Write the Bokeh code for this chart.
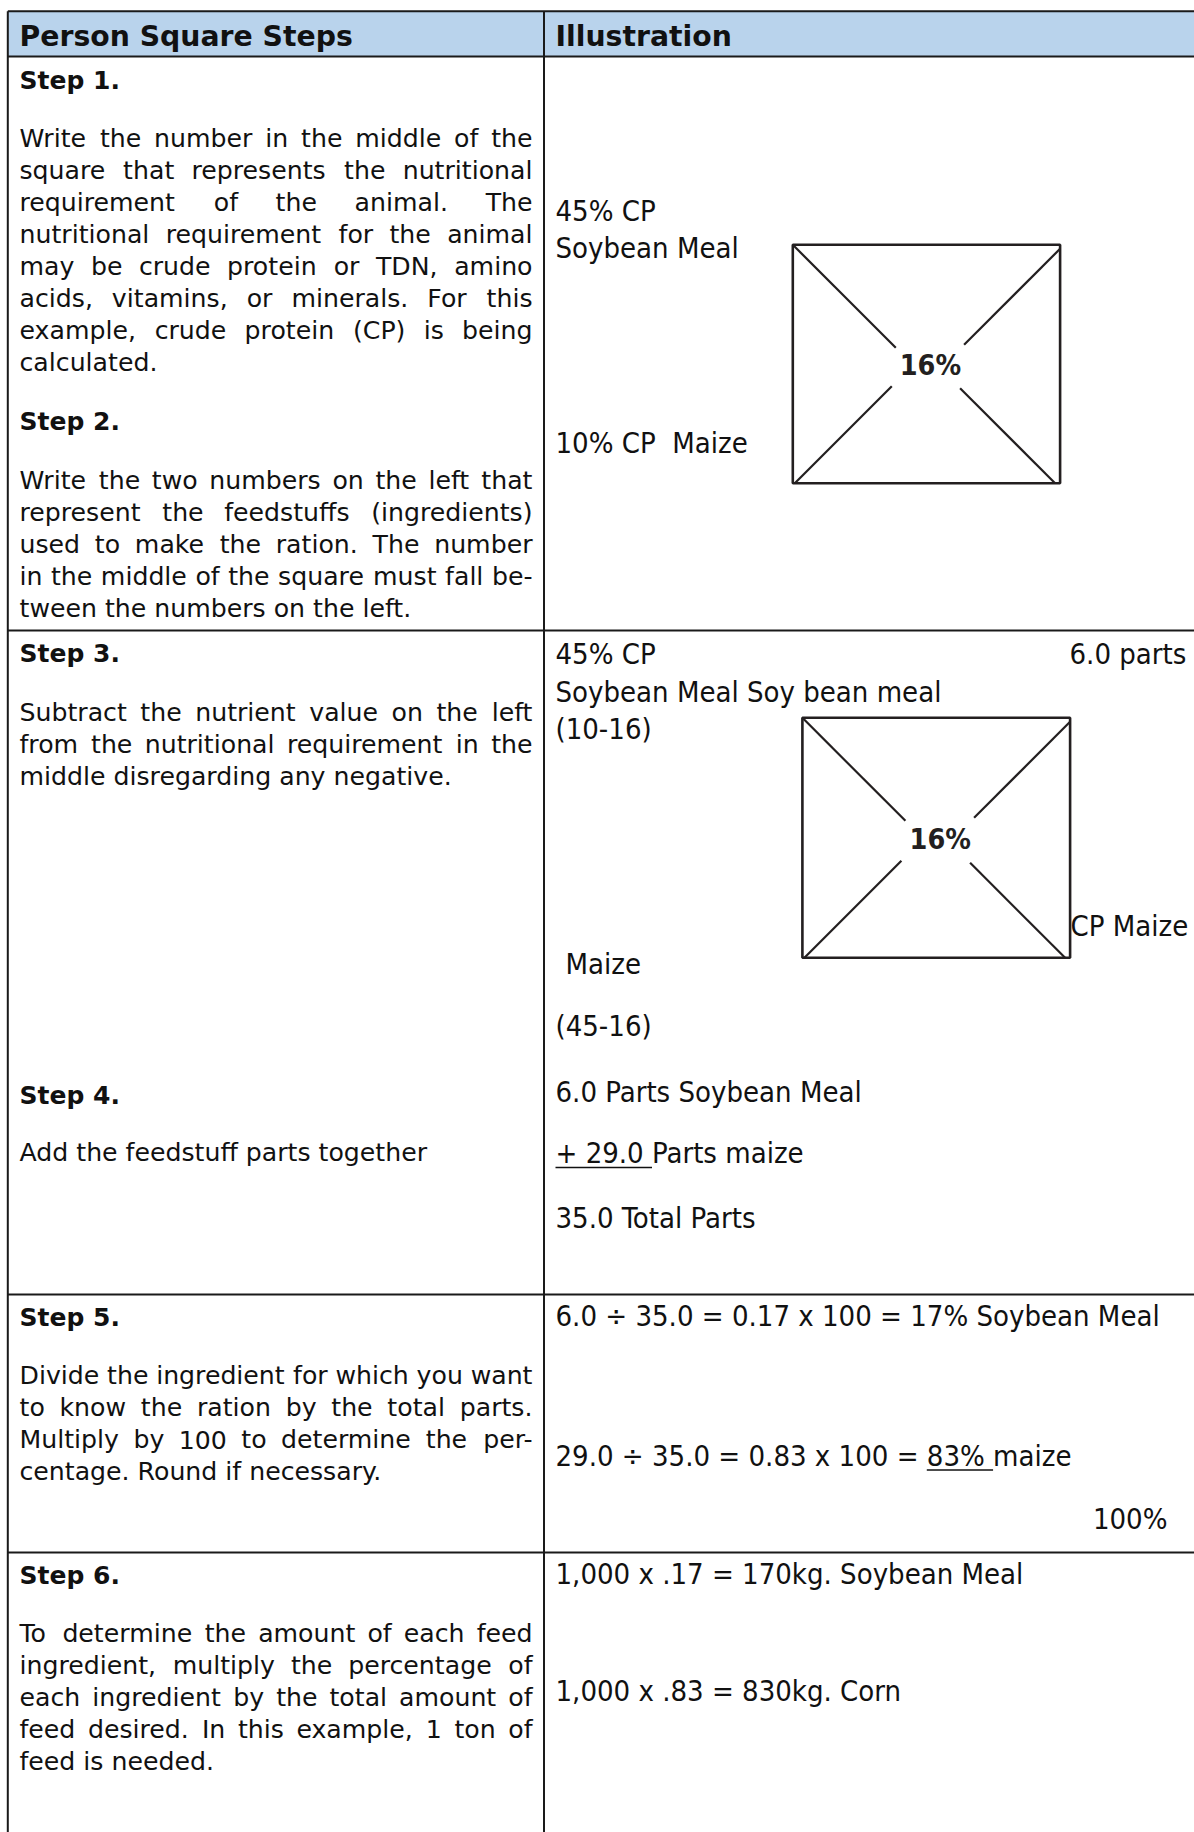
import glob, os, struct, subprocess
from bokeh.plotting import figure
from bokeh.models import Range1d, ColumnDataSource
from bokeh.core.properties import value
from bokeh.embed import file_html
from bokeh.resources import INLINE

# ---------------- texts (data) ----------------
header_labels = ["Person Square Steps", "Illustration"]
step_titles = ["Step 1.", "Step 2.", "Step 3.", "Step 4.", "Step 5.", "Step 6."]
step_paragraphs = [
    ["Write the number in the middle of the",
     "square that represents the nutritional",
     "requirement of the animal. The",
     "nutritional requirement for the animal",
     "may be crude protein or TDN, amino",
     "acids, vitamins, or minerals. For this",
     "example, crude protein (CP) is being",
     "calculated."],
    ["Write the two numbers on the left that",
     "represent the feedstuffs (ingredients)",
     "used to make the ration. The number",
     "in the middle of the square must fall be-",
     "tween the numbers on the left."],
    ["Subtract the nutrient value on the left",
     "from the nutritional requirement in the",
     "middle disregarding any negative."],
    ["Add the feedstuff parts together"],
    ["Divide the ingredient for which you want",
     "to know the ration by the total parts.",
     "Multiply by 100 to determine the per-",
     "centage. Round if necessary."],
    ["To determine the amount of each feed",
     "ingredient, multiply the percentage of",
     "each ingredient by the total amount of",
     "feed desired. In this example, 1 ton of",
     "feed is needed."],
]
requirement_label = "16%"
illus_step1 = ["45% CP", "Soybean Meal", "10% CP\u00a0 Maize"]
illus_step3 = ["45% CP", "6.0 parts", "Soybean Meal Soy bean meal", "(10-16)",
               "CP Maize", "Maize", "(45-16)"]
illus_step4 = ["6.0 Parts Soybean Meal", "+ 29.0 Parts maize", "35.0 Total Parts"]
underline_step4 = "+ 29.0 "
illus_step5 = ["6.0 \u00f7 35.0 = 0.17 x 100 = 17% Soybean Meal",
               "29.0 \u00f7 35.0 = 0.83 x 100 = 83% maize", "100%"]
underline_step5_prefix = "29.0 \u00f7 35.0 = 0.83 x 100 = "
underline_step5 = "83% "
illus_step6 = ["1,000 x .17 = 170kg. Soybean Meal", "1,000 x .83 = 830kg. Corn"]

# ---------------- layout (page pixels) ----------------
W, H = 1194, 1832
T_LEFT, T_TOP, HDR_BOT = 7.3, 10.7, 56.0
COL_DIV = 543.5
ROW_LINES = [630.0, 1294.0, 1552.0]
LX, LR = 19.0, 532.0
RX = 555.0
LGAP = 31.9
title_y = [90, 431, 663, 1105, 1327, 1585]
para_y = [148, 490, 722, 1162, 1385, 1643]
BASE_K = 0.385   # baseline correction (fraction of font size)

BODY_FONT, BODY_SIZE = "DejaVu Sans", 25.2
ILL_FONT, ILL_SIZE = "DejaVu Sans Condensed", 29.0
HDR_SIZE, TITLE_SIZE, REQ_SIZE = 28.3, 25.0, 28.5
INK = "#111111"
BORDER = "#1a1a1a"
SQ_INK = "#231f20"
HEADER_FILL = "#b9d3ec"


# ---------------- font metrics (for justified lines / underlines) ----------------
def find_font(fname, family):
    for base in ["/usr/share/fonts", "/usr/local/share/fonts",
                 os.path.expanduser("~/.fonts"), os.path.expanduser("~/.local/share/fonts")]:
        r = glob.glob(os.path.join(base, "**", fname), recursive=True)
        if r:
            return r[0]
    try:
        out = subprocess.run(["fc-match", "-f", "%{file}", family], capture_output=True,
                             text=True, timeout=5).stdout.strip()
        if out and os.path.basename(out).lower() == fname.lower():
            return out
    except Exception:
        pass
    return None


def load_width_fn(path):
    data = open(path, "rb").read()
    n = struct.unpack(">H", data[4:6])[0]
    tabs = {}
    for i in range(n):
        tag, _, off, ln = struct.unpack(">4sIII", data[12 + 16 * i:28 + 16 * i])
        tabs[tag.decode("latin-1")] = off
    upem = struct.unpack(">H", data[tabs["head"] + 18:tabs["head"] + 20])[0]
    nhm = struct.unpack(">H", data[tabs["hhea"] + 34:tabs["hhea"] + 36])[0]
    hm = tabs["hmtx"]
    adv = [struct.unpack(">H", data[hm + 4 * i:hm + 4 * i + 2])[0] for i in range(nhm)]
    cm = tabs["cmap"]
    nsub = struct.unpack(">H", data[cm + 2:cm + 4])[0]
    sub = None
    for i in range(nsub):
        pid, eid, off = struct.unpack(">HHI", data[cm + 4 + 8 * i:cm + 12 + 8 * i])
        fmt = struct.unpack(">H", data[cm + off:cm + off + 2])[0]
        if fmt == 4 and pid in (0, 3):
            sub = cm + off
            break
    sx2 = struct.unpack(">H", data[sub + 6:sub + 8])[0]
    sc = sx2 // 2
    ends = struct.unpack(">%dH" % sc, data[sub + 14:sub + 14 + sx2])
    starts = struct.unpack(">%dH" % sc, data[sub + 16 + sx2:sub + 16 + 2 * sx2])
    deltas = struct.unpack(">%dh" % sc, data[sub + 16 + 2 * sx2:sub + 16 + 3 * sx2])
    rpos = sub + 16 + 3 * sx2
    roffs = struct.unpack(">%dH" % sc, data[rpos:rpos + sx2])

    def gid(ch):
        c = ord(ch)
        for i in range(sc):
            if ends[i] >= c:
                if starts[i] > c:
                    return 0
                if roffs[i] == 0:
                    return (c + deltas[i]) & 0xFFFF
                a = rpos + 2 * i + roffs[i] + 2 * (c - starts[i])
                g = struct.unpack(">H", data[a:a + 2])[0]
                return (g + deltas[i]) & 0xFFFF if g else 0
        return 0

    def width(s, size):
        return sum(adv[min(gid(ch), nhm - 1)] for ch in s) * size / upem
    return width


def safe_width_fn(fname, family, approx):
    try:
        p = find_font(fname, family)
        if p:
            return load_width_fn(p)
    except Exception:
        pass
    return lambda s, size: len(s) * approx * size


body_w = safe_width_fn("DejaVuSans.ttf", "DejaVu Sans", 0.56)
ill_w = safe_width_fn("DejaVuSansCondensed.ttf", "DejaVu Sans Condensed", 0.50)

# ---------------- figure ----------------
p = figure(width=W, height=H, x_range=Range1d(0, W), y_range=Range1d(H, 0),
           output_backend="svg", toolbar_location=None, x_axis_type=None, y_axis_type=None,
           min_border=0, background_fill_color="white", border_fill_color="white")
p.outline_line_color = None
p.grid.visible = False

BOTTOM = H + 10
RIGHT = W + 20

# header band
p.quad(left=[T_LEFT], right=[RIGHT], top=[T_TOP], bottom=[HDR_BOT],
       fill_color=HEADER_FILL, line_color=None)

# table rules
hy = [T_TOP, HDR_BOT] + ROW_LINES
p.segment(x0=[T_LEFT] * len(hy), x1=[RIGHT] * len(hy), y0=hy, y1=hy,
          line_color=BORDER, line_width=2)
vx = [T_LEFT, COL_DIV]
p.segment(x0=vx, x1=vx, y0=[T_TOP] * 2, y1=[BOTTOM] * 2, line_color=BORDER, line_width=2)

# ---------------- text collection ----------------
groups = {}


def add(x, y, t, font, size, style="normal", align="left", color=INK):
    key = (font, size, style, align, color)
    g = groups.setdefault(key, {"x": [], "y": [], "text": []})
    g["x"].append(x)
    g["y"].append(y - BASE_K * size)
    g["text"].append(t)


# headers
add(LX, 47, header_labels[0], BODY_FONT, HDR_SIZE, "bold")
add(RX, 47, header_labels[1], BODY_FONT, HDR_SIZE, "bold")

# left column: titles and justified paragraphs
for t, ty in zip(step_titles, title_y):
    add(LX, ty, t, BODY_FONT, TITLE_SIZE, "bold")

space_w = body_w(" ", BODY_SIZE)
for lines, y0 in zip(step_paragraphs, para_y):
    for i, line in enumerate(lines):
        y = y0 + i * LGAP
        justify = i < len(lines) - 1
        words = line.split()
        if justify and len(words) > 1:
            ws = [body_w(wd, BODY_SIZE) for wd in words]
            gap = (LR - LX - sum(ws)) / (len(words) - 1)
            if gap >= space_w * 0.8:
                x = LX
                for k, (wd, w) in enumerate(zip(words, ws)):
                    if k == len(words) - 1:
                        add(LR, y, wd, BODY_FONT, BODY_SIZE, align="right")
                    else:
                        add(x, y, wd, BODY_FONT, BODY_SIZE)
                    x += w + gap
                continue
        add(LX, y, line, BODY_FONT, BODY_SIZE)

# right column illustration texts
add(RX, 222, illus_step1[0], ILL_FONT, ILL_SIZE)
add(RX, 259, illus_step1[1], ILL_FONT, ILL_SIZE)
add(RX, 454, illus_step1[2], ILL_FONT, ILL_SIZE)

add(RX, 665, illus_step3[0], ILL_FONT, ILL_SIZE)
add(1069, 665, illus_step3[1], ILL_FONT, ILL_SIZE)
add(RX, 703, illus_step3[2], ILL_FONT, ILL_SIZE)
add(RX, 740, illus_step3[3], ILL_FONT, ILL_SIZE)
add(1070, 937, illus_step3[4], ILL_FONT, ILL_SIZE)
add(565, 975, illus_step3[5], ILL_FONT, ILL_SIZE)
add(RX, 1037, illus_step3[6], ILL_FONT, ILL_SIZE)

step4_y = [1103, 1164, 1229]
for t, y in zip(illus_step4, step4_y):
    add(RX, y, t, ILL_FONT, ILL_SIZE)
add(RX, 1327, illus_step5[0], ILL_FONT, ILL_SIZE)
add(RX, 1467, illus_step5[1], ILL_FONT, ILL_SIZE)
add(1167, 1530, illus_step5[2], ILL_FONT, ILL_SIZE, align="right")
add(RX, 1585, illus_step6[0], ILL_FONT, ILL_SIZE)
add(RX, 1702, illus_step6[1], ILL_FONT, ILL_SIZE)

# underlines
u1x0 = RX
u1x1 = RX + ill_w(underline_step4, ILL_SIZE)
u2x0 = RX + ill_w(underline_step5_prefix, ILL_SIZE)
u2x1 = u2x0 + ill_w(underline_step5, ILL_SIZE)
p.segment(x0=[u1x0, u2x0], x1=[u1x1, u2x1], y0=[1167.0, 1469.5], y1=[1167.0, 1469.5],
          line_color=INK, line_width=1.6)

# Pearson squares
squares = [(792.3, 1059.6, 244.3, 482.7), (801.9, 1069.6, 717.3, 957.3)]
for (x0, x1, y0, y1) in squares:
    p.quad(left=[x0], right=[x1], top=[y0], bottom=[y1], fill_color=None,
           line_color=SQ_INK, line_width=2.6)
    # diagonals at 45 degrees from the corners toward the centre label
    sx = [x0, x1, x0 + 2, x1 - 5]
    sy = [y0, y0 + 4, y1, y1]
    dx = [1, -1, 1, -1]
    dy = [1, 1, -1, -1]
    ln = [103, 96, 97, 95]
    p.segment(x0=sx, y0=sy,
              x1=[a + d * l for a, d, l in zip(sx, dx, ln)],
              y1=[b + d * l for b, d, l in zip(sy, dy, ln)],
              line_color=SQ_INK, line_width=2.2)
    cx, cy = (x0 + x1) / 2 + 4, (y0 + y1) / 2
    add(cx, cy + 0.44 * REQ_SIZE, requirement_label, ILL_FONT, REQ_SIZE, "bold", "center", SQ_INK)

for (font, size, style, align, color), g in groups.items():
    p.text(x="x", y="y", text="text", source=ColumnDataSource(g),
           text_font=value(font), text_font_size="%.1fpx" % size, text_font_style=style,
           text_align=align, text_baseline="alphabetic", text_color=color)

open("out.html", "w").write(file_html(p, INLINE))
